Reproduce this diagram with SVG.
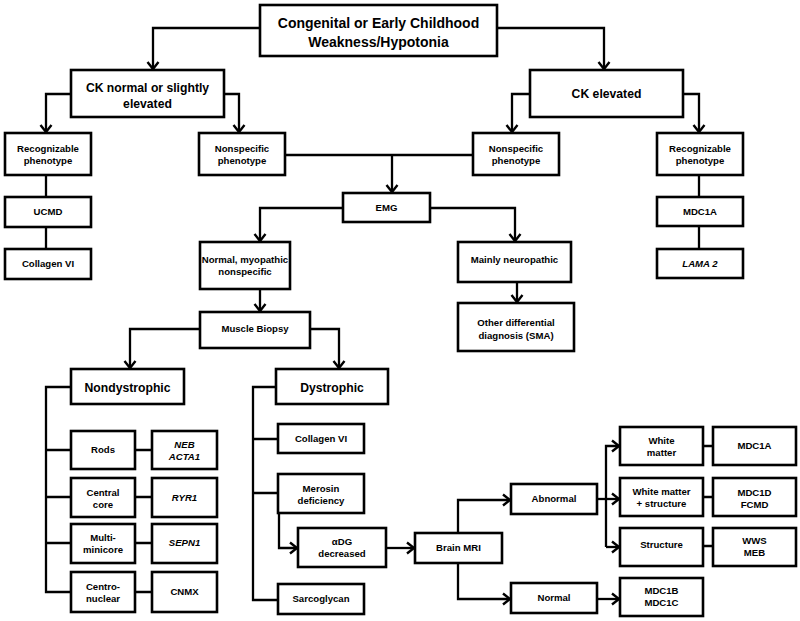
<svg xmlns="http://www.w3.org/2000/svg" width="800" height="621" viewBox="0 0 800 621">
<style>
.b{fill:#fff;stroke:#000;stroke-width:2.6}
.t{font-family:"Liberation Sans",Arial,sans-serif;font-weight:bold;text-anchor:middle;fill:#000}
.s{font-size:9.6px}
.m{font-size:12.2px}
.l{font-size:14px}
.i{font-style:italic}
.c{fill:none;stroke:#000;stroke-width:2.3}
.a{marker-end:url(#ah)}
</style>
<defs>
<marker id="ah" markerUnits="userSpaceOnUse" markerWidth="14" markerHeight="14" viewBox="0 0 14 14" refX="12" refY="7" orient="auto" overflow="visible">
<path d="M5,1.5 L12,7 L5,12.5" fill="none" stroke="#000" stroke-width="2.4"/>
</marker>
</defs>
<rect width="800" height="621" fill="#fff"/>
<g id="connectors">
<path class="c a" d="M260,28 H153 V69"/>
<path class="c a" d="M497,28 H604 V69"/>
<path class="c a" d="M71,94 H46 V132"/>
<path class="c a" d="M224,94 H239 V132"/>
<path class="c a" d="M530,94 H512 V132"/>
<path class="c a" d="M683,94 H699 V132"/>
<path class="c" d="M46,175 V197"/>
<path class="c" d="M46,227 V249"/>
<path class="c" d="M699,175 V197"/>
<path class="c" d="M699,226 V249"/>
<path class="c" d="M285,155 H473"/>
<path class="c a" d="M392,155 V192"/>
<path class="c a" d="M343,208 H260 V241"/>
<path class="c a" d="M430,208 H515 V241"/>
<path class="c a" d="M260,289 V311"/>
<path class="c a" d="M517,282 V302"/>
<path class="c a" d="M200,329 H130 V368"/>
<path class="c a" d="M310,329 H339 V368"/>
<path class="c" d="M71,387 H46 V592 H71 M46,450 H71 M46,497 H71 M46,543 H71"/>
<path class="c" d="M135,450 H152 M135,497 H152 M135,543 H152 M135,592 H152"/>
<path class="c" d="M276,387 H253 V600 H278 M253,439 H278 M253,493 H278"/>
<path class="c a" d="M279,513 V548 H297"/>
<path class="c a" d="M386,548 H414"/>
<path class="c a" d="M458,533 V500 H510"/>
<path class="c a" d="M458,563 V599 H510"/>
<path class="c a" d="M597,599 H619"/>
<path class="c a" d="M597,499 H619"/>
<path class="c a" d="M606,547 V446 H619"/>
<path class="c a" d="M606,547 H619"/>
<path class="c" d="M703,446 H713 M703,497 H713 M703,546 H713"/>
</g>
<g id="title"><rect class="b" x="260" y="5" width="237" height="51"/><text class="t l" x="378.5" y="28">Congenital or Early Childhood</text><text class="t l" x="378.5" y="47">Weakness/Hypotonia</text></g>
<g id="ck-normal"><rect class="b" x="71" y="70" width="153" height="47"/><text class="t m" x="147.5" y="92.3">CK normal or slightly</text><text class="t m" x="147.5" y="108.3">elevated</text></g>
<g id="ck-elevated"><rect class="b" x="530" y="70" width="153" height="47"/><text class="t m" x="606.5" y="97.5">CK elevated</text></g>
<g id="recog-left"><rect class="b" x="5" y="133" width="86" height="42"/><text class="t s" x="48" y="152.4">Recognizable</text><text class="t s" x="48" y="164.4">phenotype</text></g>
<g id="nonspec-left"><rect class="b" x="199" y="133" width="86" height="42"/><text class="t s" x="242" y="152.4">Nonspecific</text><text class="t s" x="242" y="164.4">phenotype</text></g>
<g id="nonspec-right"><rect class="b" x="473" y="133" width="86" height="42"/><text class="t s" x="516" y="152.4">Nonspecific</text><text class="t s" x="516" y="164.4">phenotype</text></g>
<g id="recog-right"><rect class="b" x="657" y="133" width="86" height="42"/><text class="t s" x="700" y="152.4">Recognizable</text><text class="t s" x="700" y="164.4">phenotype</text></g>
<g id="ucmd"><rect class="b" x="5" y="197" width="86" height="30"/><text class="t s" x="48" y="215.4">UCMD</text></g>
<g id="collagen-left"><rect class="b" x="5" y="249" width="86" height="30"/><text class="t s" x="48" y="267.4">Collagen VI</text></g>
<g id="emg"><rect class="b" x="343" y="193" width="87" height="29"/><text class="t s" x="386.5" y="211.4">EMG</text></g>
<g id="mdc1a-top"><rect class="b" x="657" y="197" width="86" height="29"/><text class="t s" x="700" y="215.4">MDC1A</text></g>
<g id="lama2"><rect class="b" x="657" y="249" width="86" height="29"/><text class="t s i" x="700" y="267.4">LAMA 2</text></g>
<g id="normal-myopathic"><rect class="b" x="200" y="242" width="90" height="47"/><text class="t s" x="245" y="263.4">Normal, myopathic</text><text class="t s" x="245" y="275.4">nonspecific</text></g>
<g id="neuropathic"><rect class="b" x="458" y="242" width="113" height="40"/><text class="t s" x="514.5" y="263.4">Mainly neuropathic</text></g>
<g id="other-dd"><rect class="b" x="458" y="303" width="116" height="48"/><text class="t s" x="516" y="326.4">Other differential</text><text class="t s" x="516" y="339.4">diagnosis (SMA)</text></g>
<g id="biopsy"><rect class="b" x="200" y="312" width="110" height="36"/><text class="t s" x="255" y="332.4">Muscle Biopsy</text></g>
<g id="nondystrophic"><rect class="b" x="71" y="369" width="113" height="35"/><text class="t m" x="127.5" y="392.3">Nondystrophic</text></g>
<g id="dystrophic"><rect class="b" x="276" y="369" width="112" height="35"/><text class="t m" x="332" y="392.3">Dystrophic</text></g>
<g id="rods"><rect class="b" x="71" y="431" width="64" height="38"/><text class="t s" x="103" y="453.4">Rods</text></g>
<g id="neb"><rect class="b" x="152" y="431" width="65" height="38"/><text class="t s i" x="184.5" y="448.4">NEB</text><text class="t s i" x="184.5" y="460.4">ACTA1</text></g>
<g id="central-core"><rect class="b" x="71" y="478" width="64" height="39"/><text class="t s" x="103" y="496.4">Central</text><text class="t s" x="103" y="508.4">core</text></g>
<g id="ryr1"><rect class="b" x="152" y="478" width="65" height="39"/><text class="t s i" x="184.5" y="501.4">RYR1</text></g>
<g id="multiminicore"><rect class="b" x="71" y="524" width="64" height="39"/><text class="t s" x="103" y="541.4">Multi-</text><text class="t s" x="103" y="553.4">minicore</text></g>
<g id="sepn1"><rect class="b" x="152" y="524" width="65" height="39"/><text class="t s i" x="184.5" y="546.4">SEPN1</text></g>
<g id="centronuclear"><rect class="b" x="71" y="572" width="64" height="40"/><text class="t s" x="103" y="590.4">Centro-</text><text class="t s" x="103" y="602.4">nuclear</text></g>
<g id="cnmx"><rect class="b" x="152" y="572" width="65" height="40"/><text class="t s" x="184.5" y="595.4">CNMX</text></g>
<g id="collagen-dys"><rect class="b" x="278" y="424" width="86" height="29"/><text class="t s" x="321" y="441.9">Collagen VI</text></g>
<g id="merosin"><rect class="b" x="278" y="474" width="86" height="39"/><text class="t s" x="321" y="492.4">Merosin</text><text class="t s" x="321" y="504.4">deficiency</text></g>
<g id="adg"><rect class="b" x="298" y="528" width="88" height="39"/><text class="t s" x="342" y="545.4">αDG</text><text class="t s" x="342" y="557.4">decreased</text></g>
<g id="sarcoglycan"><rect class="b" x="278" y="584" width="86" height="30"/><text class="t s" x="321" y="602.4">Sarcoglycan</text></g>
<g id="brain-mri"><rect class="b" x="415" y="533" width="87" height="30"/><text class="t s" x="458.5" y="551.4">Brain MRI</text></g>
<g id="abnormal"><rect class="b" x="511" y="484" width="86" height="30"/><text class="t s" x="554" y="502.4">Abnormal</text></g>
<g id="normal"><rect class="b" x="511" y="583" width="86" height="30"/><text class="t s" x="554" y="601.4">Normal</text></g>
<g id="white-matter"><rect class="b" x="620" y="427" width="83" height="38"/><text class="t s" x="661.5" y="444.4">White</text><text class="t s" x="661.5" y="456.4">matter</text></g>
<g id="mdc1a-bottom"><rect class="b" x="713" y="427" width="83" height="38"/><text class="t s" x="754.5" y="449.4">MDC1A</text></g>
<g id="wm-structure"><rect class="b" x="620" y="478" width="83" height="38"/><text class="t s" x="661.5" y="495.4">White matter</text><text class="t s" x="661.5" y="507.4">+ structure</text></g>
<g id="mdc1d"><rect class="b" x="713" y="478" width="83" height="38"/><text class="t s" x="754.5" y="496.4">MDC1D</text><text class="t s" x="754.5" y="508.4">FCMD</text></g>
<g id="structure"><rect class="b" x="620" y="528" width="83" height="38"/><text class="t s" x="661.5" y="548.4">Structure</text></g>
<g id="wws"><rect class="b" x="713" y="528" width="83" height="38"/><text class="t s" x="754.5" y="544.4">WWS</text><text class="t s" x="754.5" y="556.4">MEB</text></g>
<g id="mdc1b"><rect class="b" x="620" y="578" width="83" height="38"/><text class="t s" x="661.5" y="594.4">MDC1B</text><text class="t s" x="661.5" y="606.4">MDC1C</text></g>
</svg>
